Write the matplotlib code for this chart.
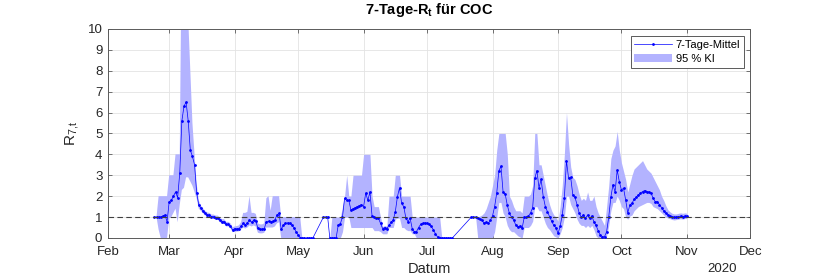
import numpy as np
import matplotlib
matplotlib.use("Agg")
import matplotlib.pyplot as plt
import matplotlib.dates as mdates
from matplotlib.patches import Patch
from matplotlib.lines import Line2D

plt.rcParams["font.family"] = ["Liberation Sans", "DejaVu Sans"]
plt.rcParams["mathtext.fontset"] = "custom"
plt.rcParams["mathtext.rm"] = "Liberation Sans"
plt.rcParams["mathtext.bf"] = "Liberation Sans:bold"

# three runs of daily values; no data in the gaps between them
START_1 = "2020-02-23"
MEAN_1 = [1.0, 1.0, 1.0, 1.0, 1.05, 1.1, 0.78, 1.74, 1.8, 2.0,
          2.2, 1.93, 3.1, 5.6, 6.3, 6.5, 5.6, 4.2, 3.9, 3.5,
          2.17, 1.58, 1.42, 1.29, 1.18, 1.1, 1.1, 1.02, 1.02, 0.97,
          0.97, 0.86, 0.78, 0.78, 0.65, 0.65, 0.57, 0.38, 0.45, 0.43,
          0.45, 0.55, 0.7, 0.62, 0.73, 0.85, 0.75, 0.85, 0.8, 0.46,
          0.41, 0.41, 0.45, 0.78, 0.8, 0.78, 0.8, 0.86, 1.1, 1.18,
          0.41, 0.6, 0.7, 0.72, 0.7, 0.62, 0.5, 0.3, 0.15, 0.02,
          0, 0, 0, 0, 0, 0]
LO_1 = [1.0, 1.0, 0.4, 0, 0, 0, 0, 0.95, 1.0, 1.2,
        1.4, 0.75, 1.6, 2.3, 2.4, 2.9, 2.9, 2.7, 2.5, 2.2,
        1.9, 1.4, 1.3, 1.18, 1.08, 1.0, 0.98, 0.92, 0.92, 0.87,
        0.87, 0.76, 0.68, 0.68, 0.55, 0.55, 0.47, 0.28, 0.3, 0.3,
        0.32, 0.4, 0.5, 0.45, 0.5, 0.6, 0.55, 0.6, 0.55, 0.25,
        0.22, 0.22, 0.25, 0.5, 0.5, 0.5, 0.5, 0.55, 0.7, 0.75,
        0, 0, 0, 0, 0, 0, 0, 0, 0, 0,
        0, 0, 0, 0, 0, 0]
HI_1 = [1.0, 1.0, 2.0, 2.0, 2.0, 2.0, 2.0, 3.0, 3.0, 3.0,
        4.0, 4.0, 4.0, 15, 15, 15, 10.5, 8.0, 5.5, 4.0,
        2.6, 1.8, 1.55, 1.42, 1.3, 1.22, 1.2, 1.12, 1.12, 1.07,
        1.07, 0.98, 0.9, 0.9, 0.77, 0.77, 0.7, 0.52, 0.55, 0.57,
        0.6, 0.75, 1.2, 1.2, 1.25, 2.0, 1.2, 1.2, 1.15, 0.7,
        0.65, 0.65, 0.7, 1.9, 2.0, 1.3, 2.0, 2.0, 2.0, 2.0,
        1.0, 1.0, 1.0, 1.0, 1.0, 1.0, 1.0, 1.0, 1.0, 1.0,
        0, 0, 0, 0, 0, 0]

START_2 = "2020-05-13"
MEAN_2 = [1.0, 1.0, 1.0, 0, 0, 0, 0, 0.62, 0.68, 1.0,
          1.9, 1.8, 1.8, 1.34, 1.4, 1.45, 1.5, 1.55, 1.6, 1.5,
          2.15, 1.8, 2.2, 1.05, 1.0, 0.95, 0.95, 0.7, 0.45, 0.5,
          0.45, 0.6, 0.75, 0.85, 1.25, 1.97, 2.4, 1.65, 1.5, 0.95,
          0.78, 0.95, 0.45, 0.3, 0.3, 0.5, 0.65, 0.7, 0.72, 0.7,
          0.65, 0.55, 0.4, 0.2, 0.05, 0, 0, 0, 0, 0,
          0, 0]
LO_2 = [1.0, 1.0, 1.0, 0, 0, 0, 0, 0, 0, 0.3,
        1.0, 1.0, 1.0, 0.5, 0.5, 0.5, 0.5, 0.5, 0.5, 0.5,
        0.5, 0.5, 0.5, 0.5, 0.35, 0.35, 0.35, 0.3, 0.2, 0.2,
        0.2, 0.5, 0.5, 0.5, 0.9, 0.95, 0.95, 0.5, 0.5, 0.4,
        0.35, 0.35, 0.2, 0.2, 0, 0, 0, 0, 0, 0,
        0, 0, 0, 0, 0, 0, 0, 0, 0, 0,
        0, 0]
HI_2 = [1.0, 1.0, 1.0, 0, 1.0, 1.0, 1.0, 1.0, 1.0, 1.5,
        2.0, 3.0, 2.0, 2.0, 3.0, 3.0, 3.0, 3.0, 3.0, 4.0,
        4.0, 4.0, 4.0, 2.0, 1.5, 1.5, 1.5, 1.0, 0.55, 0.6,
        0.55, 2.0, 2.0, 2.0, 3.0, 3.0, 3.0, 2.0, 2.0, 2.0,
        2.0, 2.0, 1.0, 1.0, 1.0, 1.0, 1.0, 1.0, 1.0, 1.0,
        1.0, 1.0, 1.0, 1.0, 1.0, 1.0, 0, 0, 0, 0,
        0, 0]

START_3 = "2020-07-22"
MEAN_3 = [1.0, 1.0, 1.0, 0.95, 0.9, 0.85, 0.7, 0.75, 0.7, 0.85,
          1.05, 1.5, 2.15, 3.2, 3.44, 2.2, 2.1, 1.57, 1.18, 1.0,
          0.86, 0.62, 0.54, 0.57, 0.46, 0.98, 0.98, 1.05, 1.2, 1.45,
          2.85, 3.22, 2.4, 2.8, 1.98, 1.5, 1.26, 1.02, 0.8, 0.6,
          0.5, 0.22, 0.55, 1.1, 1.9, 3.7, 2.85, 2.9, 2.06, 1.95,
          1.6, 1.2, 1.0, 1.1, 0.94, 1.1, 0.94, 1.05, 0.77, 0.6,
          0.35, 0.14, 0.06, 0.06, 0.3, 1.0, 1.95, 2.55, 2.2, 3.25,
          2.7, 2.3, 2.38, 1.82, 1.2, 1.58, 1.66, 1.85, 1.95, 2.06,
          2.14, 2.22, 2.27, 2.2, 2.2, 2.15, 1.9, 1.74, 1.74, 1.6,
          1.45, 1.3, 1.18, 1.1, 1.05, 1.0, 0.98, 1.0, 1.02, 1.05,
          1.02, 1.05, 1.05]
LO_3 = [1.0, 1.0, 1.0, 0, 0, 0, 0, 0, 0, 0,
        0, 0.3, 1.0, 1.7, 1.7, 1.2, 1.0, 0.6, 0.4, 0.3,
        0.3, 0.2, 0.1, 0.05, 0, 0.5, 0.5, 0.5, 0.6, 0.8,
        1.5, 1.5, 1.3, 1.3, 1.0, 0.7, 0.5, 0.4, 0.25, 0.1,
        0.05, 0, 0.2, 0.5, 1.0, 2.0, 2.0, 1.6, 1.4, 1.2,
        0.9, 0.7, 0.6, 0.6, 0.5, 0.6, 0.5, 0.6, 0.4, 0.1,
        0, 0, 0, 0, 0.1, 0.6, 1.3, 1.7, 1.7, 2.0,
        1.8, 1.5, 1.4, 1.0, 0.9, 1.05, 1.1, 1.3, 1.4, 1.5,
        1.55, 1.6, 1.65, 1.7, 1.7, 1.65, 1.5, 1.45, 1.4, 1.3,
        1.2, 1.1, 1.0, 0.95, 0.92, 0.88, 0.86, 0.88, 0.9, 0.92,
        0.9, 0.93, 0.93]
HI_3 = [1.0, 1.0, 1.0, 1.0, 1.05, 1.1, 1.2, 1.4, 1.7, 2.0,
        2.5, 3.0, 4.2, 5.0, 5.0, 5.0, 5.0, 4.0, 2.0, 1.8,
        1.5, 1.3, 1.3, 1.3, 1.2, 2.0, 2.0, 2.0, 2.1, 2.5,
        5.0, 5.0, 3.5, 3.5, 3.0, 2.5, 2.0, 1.6, 1.3, 1.1,
        1.0, 0.8, 1.5, 2.5, 4.0, 6.0, 4.5, 3.4, 2.9, 2.8,
        2.5, 2.1, 1.8, 1.9, 1.8, 2.2, 1.8, 1.8, 2.0, 1.5,
        1.2, 1.0, 0.8, 0.6, 1.5, 2.5, 3.8, 4.2, 4.4, 5.1,
        4.2, 3.6, 3.2, 2.8, 2.2, 2.6, 3.0, 3.3, 3.4, 3.5,
        3.6, 3.7, 3.5, 3.3, 3.2, 3.1, 2.9, 2.7, 2.5, 2.3,
        2.0, 1.8, 1.55, 1.35, 1.25, 1.18, 1.15, 1.15, 1.18, 1.2,
        1.18, 1.2, 1.18]

SEGMENTS = [(START_1, MEAN_1, LO_1, HI_1),
            (START_2, MEAN_2, LO_2, HI_2),
            (START_3, MEAN_3, LO_3, HI_3)]

BAND = "#b3b3ff"
LINE = "#0000ff"
AXC = "#5a5a5a"

fig = plt.figure(figsize=(8.3, 2.78), dpi=100)
ax = fig.add_axes([0.130, 0.144, 0.774, 0.752])

all_d, all_m = [], []
for start, m, lo, hi in SEGMENTS:
    d = np.datetime64(start) + np.arange(len(m))
    ax.fill_between(d, lo, hi, color=BAND, lw=0, zorder=2)
    all_d.append(d); all_m.append(m)
ax.plot(np.concatenate(all_d), np.concatenate(all_m), "-", color=LINE, lw=0.5,
        marker=".", ms=2, zorder=3)
ax.axhline(1, color="#404040", ls=(0, (5, 3)), lw=0.8, zorder=4)

ax.set_xlim(np.datetime64("2020-02-01"), np.datetime64("2020-12-01"))
ax.set_ylim(0, 10)
ax.set_yticks(range(0, 11))
ax.xaxis.set_major_locator(mdates.MonthLocator())
ax.xaxis.set_major_formatter(mdates.DateFormatter("%b"))
ax.grid(True, color="#e3e3e3", lw=0.6, zorder=0)
ax.set_axisbelow(True)
ax.tick_params(direction="in", length=3, width=0.6, top=True, right=True,
               labelsize=9.5, colors=AXC, labelcolor="#262626", pad=4)
ax.tick_params(axis="x", pad=6)
for s in ax.spines.values():
    s.set_color(AXC); s.set_linewidth(0.7)

ax.set_title(r"7-Tage-R$_\mathbf{t}$ für COC", fontsize=10.5, fontweight="bold", pad=11)
ax.set_xlabel("Datum", fontsize=10.5, color="#262626", labelpad=3)
ax.set_ylabel(r"R$_\mathrm{7{,}t}$", fontsize=11, color="#262626", labelpad=4)
fig.text(722 / 830, 1 - 269 / 278, "2020", fontsize=9.5, color="#262626", ha="center", va="center")

handles = [Line2D([], [], color=LINE, lw=0.5, marker=".", ms=2),
           Patch(facecolor=BAND, edgecolor="none")]
leg = ax.legend(handles, ["7-Tage-Mittel", "95 % KI"], loc="upper right",
                bbox_to_anchor=(0.99, 0.965), fontsize=8, fancybox=False,
                framealpha=1, edgecolor="#404040", handlelength=3.4,
                handletextpad=0.3, borderpad=0.35, labelspacing=0.35, borderaxespad=0)
leg.get_frame().set_linewidth(0.6)

fig.savefig("out.png", dpi=100)
